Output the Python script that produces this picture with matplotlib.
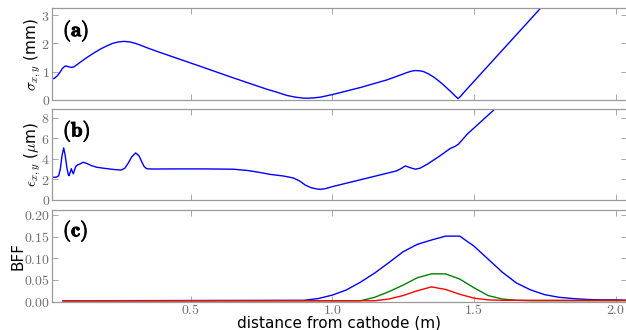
import matplotlib
matplotlib.use("Agg")
import matplotlib.pyplot as plt
import matplotlib.patheffects as pe
from matplotlib.ticker import FuncFormatter, FixedLocator

plt.rcParams["mathtext.fontset"] = "cm"
plt.rcParams["font.family"] = ["DejaVu Sans"]

# ---- beam size sigma_{x,y} (mm) along the beamline ----
sig_z = [0.011, 0.020, 0.030, 0.039, 0.048, 0.056, 0.062, 0.070, 0.080, 0.088,
         0.098, 0.110, 0.121, 0.140, 0.157, 0.180, 0.204, 0.225, 0.245, 0.265,
         0.286, 0.305, 0.322, 0.350, 0.392, 0.450, 0.534, 0.651, 0.769, 0.800,
         0.840, 0.870, 0.899, 0.920, 0.940, 0.958, 1.000, 1.099, 1.193, 1.240,
         1.264, 1.280, 1.293, 1.310, 1.323, 1.340, 1.358, 1.375, 1.393, 1.410,
         1.423, 1.435, 1.444, 1.452, 1.464, 1.735, 1.800]
sig_v = [0.74, 0.77, 0.86, 0.98, 1.12, 1.19, 1.20, 1.17, 1.15, 1.17,
         1.24, 1.33, 1.41, 1.54, 1.65, 1.79, 1.91, 2.00, 2.05, 2.07,
         2.05, 2.00, 1.94, 1.83, 1.68, 1.48, 1.19, 0.78, 0.38, 0.29,
         0.16, 0.10, 0.065, 0.065, 0.08, 0.10, 0.19, 0.44, 0.71, 0.88,
         0.97, 1.02, 1.04, 1.03, 1.00, 0.92, 0.81, 0.68, 0.53, 0.37,
         0.25, 0.13, 0.05, 0.12, 0.26, 3.24, 3.95]

# ---- transverse emittance eps_{x,y} (um) ----
eps_z = [0.011, 0.025, 0.034, 0.040, 0.046, 0.052, 0.057, 0.063, 0.068, 0.071,
         0.075, 0.079, 0.082, 0.086, 0.090, 0.095, 0.101, 0.110, 0.121, 0.135,
         0.150, 0.169, 0.200, 0.230, 0.255, 0.268, 0.280, 0.292, 0.306, 0.318,
         0.328, 0.336, 0.345, 0.360, 0.450, 0.550, 0.650, 0.700, 0.745, 0.780,
         0.827, 0.850, 0.865, 0.885, 0.905, 0.925, 0.945, 0.957, 0.975, 1.000,
         1.226, 1.242, 1.258, 1.275, 1.293, 1.310, 1.335, 1.380, 1.415, 1.435,
         1.446, 1.460, 1.476, 1.573, 1.650]
eps_v = [2.21, 2.22, 2.35, 3.00, 4.30, 5.08, 4.40, 3.20, 2.50, 2.37,
         2.70, 3.05, 2.80, 2.55, 2.90, 3.30, 3.42, 3.52, 3.68, 3.55,
         3.35, 3.19, 3.07, 2.97, 2.92, 3.10, 3.60, 4.20, 4.59, 4.30,
         3.70, 3.25, 3.05, 3.02, 3.03, 3.03, 3.00, 2.88, 2.68, 2.50,
         2.34, 2.22, 2.12, 1.85, 1.45, 1.20, 1.08, 1.04, 1.10, 1.30,
         2.83, 3.05, 3.32, 3.15, 3.00, 3.10, 3.48, 4.30, 5.00, 5.25,
         5.46, 5.90, 6.41, 8.85, 10.0]

# ---- beam-filling fraction, three charge settings ----
bff_z = [0.05, 0.90, 0.95, 1.00, 1.05, 1.10, 1.15, 1.20, 1.25, 1.30,
         1.35, 1.40, 1.45, 1.50, 1.55, 1.60, 1.65, 1.70, 1.75, 1.80,
         1.85, 1.90, 1.95, 2.00, 2.05]
bff_blue = [0.002, 0.003, 0.007, 0.015, 0.027, 0.045, 0.066, 0.090, 0.115, 0.132,
            0.142, 0.151, 0.151, 0.128, 0.098, 0.068, 0.043, 0.027, 0.016, 0.010,
            0.007, 0.005, 0.004, 0.004, 0.003]
bff_green = [0.002, 0.002, 0.002, 0.002, 0.002, 0.002, 0.010, 0.023, 0.038, 0.055,
             0.064, 0.064, 0.052, 0.032, 0.014, 0.006, 0.003, 0.002, 0.002, 0.002,
             0.002, 0.002, 0.002, 0.002, 0.002]
bff_red = [0.002, 0.002, 0.002, 0.002, 0.002, 0.002, 0.002, 0.006, 0.014, 0.025,
           0.034, 0.028, 0.017, 0.008, 0.004, 0.003, 0.003, 0.003, 0.003, 0.003,
           0.003, 0.003, 0.003, 0.003, 0.003]

x_ticks = [0.5, 1.0, 1.5, 2.0]
x_range = (0.0106, 2.039)

spine_col = "#9a9a9a"
tick_col = "#6e6e6e"

fig = plt.figure(figsize=(6.26, 3.30), dpi=100)
left, width = 0.083, 0.918
ax_a = fig.add_axes([left, 0.697, width, 0.278])
ax_b = fig.add_axes([left, 0.394, width, 0.275])
ax_c = fig.add_axes([left, 0.086, width, 0.278])

math_fmt = lambda fmt: FuncFormatter(lambda v, p: r"$%s$" % (fmt % v))

for ax in (ax_a, ax_b, ax_c):
    ax.set_xlim(*x_range)
    ax.xaxis.set_major_locator(FixedLocator(x_ticks))
    ax.tick_params(direction="in", top=True, right=True, length=4,
                   width=0.6, color=spine_col, labelcolor=tick_col,
                   labelsize=10, pad=1.5)
    for s in ax.spines.values():
        s.set_color(spine_col)
        s.set_linewidth(0.9)

ax_a.plot(sig_z, sig_v, color="#0000ff", lw=1.0)
ax_a.set_ylim(0, 3.24)
ax_a.set_yticks([0, 1, 2, 3])
ax_a.yaxis.set_major_formatter(math_fmt("%d"))
ax_a.set_xticklabels([])
ax_a.set_ylabel(r"$\sigma_{x,y}$ (mm)", fontsize=11, labelpad=-1)

ax_b.plot(eps_z, eps_v, color="#0000ff", lw=1.0)
ax_b.set_ylim(0, 8.85)
ax_b.set_yticks([0, 2, 4, 6, 8])
ax_b.yaxis.set_major_formatter(math_fmt("%d"))
ax_b.set_xticklabels([])
ax_b.set_ylabel(r"$\epsilon_{x,y}$ ($\mu$m)", fontsize=11, labelpad=-1)

ax_c.plot(bff_z, bff_blue, color="#0000ff", lw=1.0)
ax_c.plot(bff_z, bff_green, color="#008000", lw=1.0)
ax_c.plot(bff_z, bff_red, color="#ff0000", lw=1.0)
ax_c.set_ylim(0, 0.2115)
ax_c.set_yticks([0.0, 0.05, 0.10, 0.15, 0.20])
ax_c.yaxis.set_major_formatter(math_fmt("%.2f"))
ax_c.xaxis.set_major_formatter(math_fmt("%.1f"))
ax_c.tick_params(axis="x", pad=1)
ax_c.set_ylabel("BFF", fontsize=11, labelpad=-1)
ax_c.set_xlabel("distance from cathode (m)", fontsize=11, labelpad=-1)

bold = [pe.withStroke(linewidth=0.7, foreground="black")]
for ax, tag, yy in ((ax_a, "a", 0.75), (ax_b, "b", 0.755), (ax_c, "c", 0.766)):
    ax.text(0.019, yy, r"$\mathbf{(%s)}$" % tag, transform=ax.transAxes,
            ha="left", va="center", fontsize=15, path_effects=bold)

fig.savefig("out.png", dpi=100)
